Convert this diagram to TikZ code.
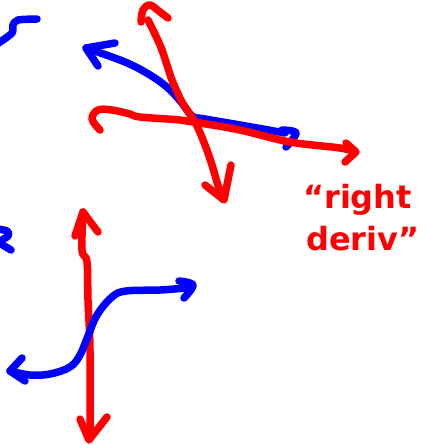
\documentclass[tikz,border=0pt]{standalone}
\usepackage{fontspec}
\newfontfamily\handfont{DejaVu Sans}
\begin{document}
\begin{tikzpicture}[x=1pt,y=-1pt,
  pen/.style={line width=7.5pt,line cap=round,line join=round},
  redpen/.style={pen,draw={rgb,255:red,255;green,0;blue,0}},
  bluepen/.style={pen,draw={rgb,255:red,0;green,0;blue,255}},
  hand/.style={anchor=base west,inner sep=0pt,text={rgb,255:red,255;green,0;blue,0},font=\handfont\bfseries\fontsize{32}{38}\selectfont}]
\useasboundingbox[fill=white] (0,0) rectangle (427,445);
% top-left blue fragment
\draw[bluepen] plot[smooth,tension=0.5] coordinates {(-6,46) (0,42) (12,33) (13,25) (18,20) (37,19)};
% left blue e fragment
\draw[bluepen] plot[smooth,tension=0.6] coordinates {(-3,229) (7,231) (8,236) (-2,242)};
\draw[bluepen] (1,244) -- (11,250);
% blue curve upper
\draw[bluepen] plot[smooth,tension=0.6] coordinates {(86,48) (125,62) (150,75) (168,88) (182,103) (192,116) (205,119) (240,125) (285,133)};
\draw[bluepen] (115,43) -- (86,48) -- (98,66);
\draw[bluepen] plot[smooth,tension=0.6] coordinates {(282,130) (296,133) (286,147)};
% red near-horizontal
\draw[redpen] plot[smooth,tension=0.6] coordinates {(100,130) (92,119) (98,110) (112,110) (130,114) (140,117) (180,120) (200,123) (240,130) (290,142) (340,148) (355,152)};
\draw[redpen] (346,143) -- (356,152) -- (345,162);
% red diagonal
\draw[redpen] plot[smooth,tension=0.6] coordinates {(141,22) (143,10) (150,5) (160,12) (168,18)};
\draw[redpen] plot[smooth,tension=0.6] coordinates {(148,20) (160,45) (167,65) (172,80) (182,102) (195,122) (205,145) (212,165) (218,185) (224,199)};
\draw[redpen] (205,185) -- (224,200) -- (231,165);
% red vertical
\draw[redpen] plot[smooth,tension=0.6] coordinates {(83,212) (82,250) (87,262) (88,300) (90,350) (90,438)};
\draw[redpen] (75,236) -- (83,212) -- (98,232);
\draw[redpen] (80,419) -- (89,440) -- (107,417);
% blue S curve
\draw[bluepen] plot[smooth,tension=0.6] coordinates {(10,371) (30,375) (50,374) (70,367) (80,355) (88,336) (97,315) (112,297) (126,291) (160,290) (186,288)};
\draw[bluepen] (22,358) -- (10,371) -- (25,381);
\draw[bluepen] plot[smooth,tension=0.6] coordinates {(179,281) (193,285) (184,298)};
% text
\node[hand] (t1) at (303,208) {“right};
\node[hand] (t2) at (306,250) {deriv”};
\end{tikzpicture}
\end{document}
